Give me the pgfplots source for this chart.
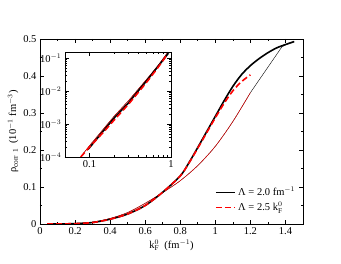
\documentclass[border=0pt]{standalone}
\usepackage{pgfplots}
\pgfplotsset{compat=1.18}
\usepackage{fontspec}
\setmainfont{Liberation Serif}
\begin{document}
\begin{tikzpicture}[x=1pt,y=1pt]
\path[use as bounding box] (0,0) rectangle (341,264);
\begin{axis}[at={(40pt,40pt)}, anchor=south west, scale only axis,
  width=263pt, height=185pt,
  xmin=0, xmax=1.5, ymin=0, ymax=0.5,
  xtick={0,0.2,0.4,0.6,0.8,1,1.2,1.4}, minor x tick num=1,
  ytick={0,0.1,0.2,0.3,0.4,0.5}, minor y tick num=1,
  tick align=inside, xtick pos=both, ytick pos=both,
  axis line style={line width=0.8pt},
  tick style={black, line width=0.6pt}, major tick length=4pt, minor tick length=2pt,
  /pgf/number format/assume math mode=true,
  ticklabel style={font=\fontsize{10.5}{12}\selectfont},
  label style={font=\fontsize{10.5}{12}\selectfont},
  xlabel={k$_{\mathrm{F}}^{0}$\ \ (fm$^{-1}$)},
  ylabel={ρ$_{\mathrm{corr\ 1}}$\ \ (10$^{-1}$ fm$^{-3}$)},
  xlabel style={yshift=2pt},
  ylabel style={yshift=-2pt},
  legend style={draw=none, fill=none, at={(0.99,0.04)}, anchor=south east,
    font=\fontsize{10.5}{12}\selectfont, row sep=1pt},
  legend cell align=left,
  legend image post style={xscale=1.15},
]
% thin black (other calc)
\addplot[black, line width=0.4pt, forget plot, smooth] coordinates {
(0.05,0) (0.2,0.0015) (0.3,0.005) (0.4,0.015) (0.5,0.031) (0.6,0.056) (0.7,0.085)
(0.8,0.117) (0.9,0.158) (1.0,0.210) (1.1,0.277) (1.2,0.355)};
\addplot[black, line width=0.4pt, forget plot] coordinates {(1.2,0.355) (1.38,0.479) (1.41,0.486)};
% thin red
\addplot[red, line width=0.4pt, forget plot, smooth] coordinates {
(0.05,0) (0.2,0.0015) (0.3,0.005) (0.4,0.015) (0.5,0.031) (0.6,0.056) (0.7,0.085)
(0.8,0.117) (0.9,0.158) (1.0,0.210) (1.1,0.277) (1.2,0.355)};
\addplot[black, line width=1.6pt, smooth] coordinates {
(0.05,0) (0.1,0.0001) (0.2,0.001) (0.3,0.004) (0.4,0.013) (0.5,0.027) (0.6,0.050)
(0.7,0.086) (0.8,0.130) (0.85,0.166) (0.9,0.207) (0.95,0.249) (1.0,0.291) (1.05,0.333)
(1.1,0.372) (1.15,0.404) (1.2,0.428) (1.25,0.447) (1.3,0.463) (1.35,0.476) (1.4,0.485)
(1.45,0.493)};
\addlegendentry{Λ = 2.0 fm$^{-1}$}
\addplot[red, line width=1.6pt, dash pattern=on 6pt off 3pt, smooth] coordinates {
(0.04,0) (0.1,0.0001) (0.2,0.001) (0.3,0.004) (0.4,0.013) (0.5,0.027) (0.6,0.050)
(0.7,0.086) (0.8,0.130) (0.85,0.165) (0.9,0.205) (0.95,0.246) (1.0,0.287) (1.05,0.326)
(1.1,0.360) (1.15,0.385) (1.2,0.403)};
\addlegendentry{Λ = 2.5 k$_{\mathrm{F}}^{0}$}
\end{axis}
\begin{axis}[at={(65pt,107pt)}, anchor=south west, scale only axis,
  width=106pt, height=105pt,
  xmode=log, ymode=log,
  xmin=0.05, xmax=1, ymin=1e-4, ymax=0.15,
  xtick={0.1,1}, xticklabels={0.1,1},
  ytick={1e-4,1e-3,1e-2,1e-1},
  yticklabels={10$^{-4}$,10$^{-3}$,10$^{-2}$,10$^{-1}$},
  tick align=inside, xtick pos=both, ytick pos=both,
  axis background/.style={fill=white},
  axis line style={line width=0.8pt},
  tick style={black, line width=0.5pt}, major tick length=4pt, minor tick length=2pt,
  ticklabel style={font=\fontsize{10.5}{12}\selectfont},
]
\addplot[black, line width=0.4pt] coordinates {
(0.08,1.1e-4) (0.1,2.2e-4) (0.2,1.7e-3) (0.3,5e-3) (0.5,0.022) (0.7,0.06) (0.9,0.14)};
\addplot[red, line width=0.4pt] coordinates {
(0.08,1.1e-4) (0.1,2.2e-4) (0.2,1.7e-3) (0.3,5e-3) (0.5,0.022) (0.7,0.06) (0.9,0.14)};
\addplot[black, line width=1.6pt] coordinates {
(0.096,1.7e-4) (0.15,6.4e-4) (0.2,1.5e-3) (0.3,4.3e-3) (0.4,0.0103) (0.5,0.020)
(0.6,0.035) (0.7,0.057) (0.8,0.086) (0.93,0.138)};
\addplot[red, line width=1.6pt, dash pattern=on 6pt off 3pt] coordinates {
(0.078,1e-4) (0.1,2.0e-4) (0.15,5.8e-4) (0.2,1.3e-3) (0.3,3.9e-3) (0.4,9.2e-3)
(0.5,0.018) (0.6,0.032) (0.7,0.053) (0.8,0.083) (0.9,0.13)};
\end{axis}
\end{tikzpicture}
\end{document}
